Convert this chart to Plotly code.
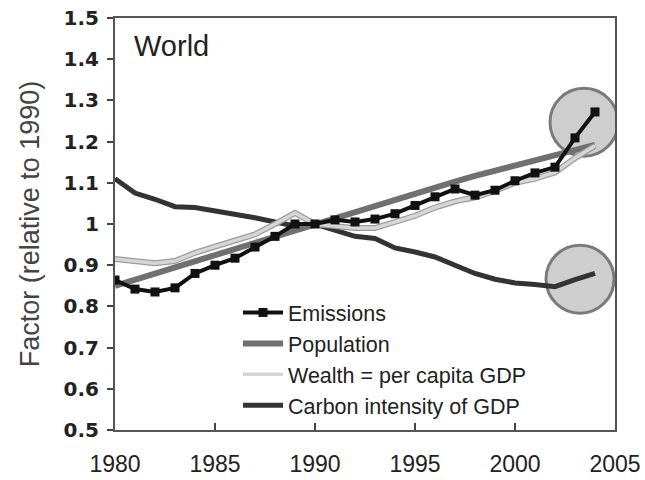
import plotly.graph_objects as go

years = list(range(1980, 2005))

emissions = [0.864, 0.842, 0.835, 0.845, 0.88, 0.90, 0.917, 0.944, 0.97, 1.0,
             1.0, 1.01, 1.005, 1.012, 1.025, 1.045, 1.066, 1.085, 1.07, 1.082,
             1.105, 1.124, 1.138, 1.209, 1.272]
population = [0.85, 0.865, 0.88, 0.895, 0.91, 0.925, 0.94, 0.955, 0.97, 0.985,
              1.0, 1.016, 1.031, 1.046, 1.061, 1.075, 1.089, 1.103, 1.117, 1.13,
              1.143, 1.156, 1.168, 1.18, 1.192]
wealth = [0.915, 0.91, 0.905, 0.91, 0.93, 0.945, 0.96, 0.975, 1.0, 1.027,
          1.0, 0.995, 0.99, 0.99, 1.005, 1.02, 1.04, 1.055, 1.065, 1.08,
          1.1, 1.11, 1.125, 1.16, 1.19]
carbon_intensity = [1.11, 1.075, 1.06, 1.042, 1.04, 1.032, 1.025, 1.015, 1.005, 0.995,
                    1.0, 0.985, 0.97, 0.965, 0.942, 0.932, 0.92, 0.90, 0.88, 0.866,
                    0.857, 0.853, 0.848, 0.865, 0.88]

y_ticks = [0.5, 0.6, 0.7, 0.8, 0.9, 1.0, 1.1, 1.2, 1.3, 1.4, 1.5]
y_tick_text = ["0.5", "0.6", "0.7", "0.8", "0.9", "1", "1.1", "1.2", "1.3", "1.4", "1.5"]
x_ticks = [1980, 1985, 1990, 1995, 2000, 2005]

# highlight circles around the latest years (centre year, centre value)
highlights = [(2003.45, 1.247), (2003.25, 0.866)]

fig = go.Figure()

fig.add_trace(go.Scatter(
    x=years, y=carbon_intensity, mode="lines", name="Carbon intensity of GDP",
    line=dict(color="#333333", width=5), legendrank=4))
fig.add_trace(go.Scatter(
    x=years, y=population, mode="lines", name="Population",
    line=dict(color="#707070", width=6), legendrank=2))
# outline under the light wealth line
fig.add_trace(go.Scatter(
    x=years, y=wealth, mode="lines", showlegend=False, hoverinfo="skip",
    line=dict(color="#9c9c9c", width=6)))
fig.add_trace(go.Scatter(
    x=years, y=wealth, mode="lines", name="Wealth = per capita GDP",
    line=dict(color="#d6d6d6", width=3.5), legendrank=3))
fig.add_trace(go.Scatter(
    x=years, y=emissions, mode="lines+markers", name="Emissions",
    line=dict(color="#111111", width=4),
    marker=dict(symbol="square", size=9, color="#111111"), legendrank=1))

for cx, cy in highlights:
    fig.add_shape(type="circle", xref="x", yref="y", layer="below",
                  xsizemode="pixel", ysizemode="pixel",
                  xanchor=cx, yanchor=cy, x0=-34, x1=34, y0=-34, y1=34,
                  fillcolor="rgba(185,185,185,0.7)",
                  line=dict(color="#7a7a7a", width=3))

fig.add_annotation(x=0.034, y=0.975, xref="paper", yref="paper",
                   text="World", showarrow=False, xanchor="left", yanchor="top",
                   font=dict(family="Liberation Sans, Arial", size=29, color="#222222"))

fig.update_layout(
    width=645, height=480,
    margin=dict(l=115, r=30, t=18, b=50),
    paper_bgcolor="white", plot_bgcolor="white",
    font=dict(family="Liberation Sans, Arial", color="#222222"),
    legend=dict(x=0.246, y=0.335, xanchor="left", yanchor="top",
                bgcolor="rgba(0,0,0,0)",
                font=dict(family="Liberation Sans, Arial", size=21.5, color="#222222"),
                tracegroupgap=0, itemwidth=40),
    showlegend=True,
)
fig.update_xaxes(range=[1980, 2005], tickvals=x_ticks, ticks="inside", ticklen=7,
                 tickcolor="#444444", tickwidth=1.5, ticklabelstandoff=12,
                 automargin=False,
                 showline=True, linecolor="#555555", linewidth=2, mirror=True,
                 showgrid=False, zeroline=False,
                 tickfont=dict(family="Liberation Sans, Arial", size=23, color="#222222"))
fig.update_yaxes(range=[0.5, 1.5], tickvals=y_ticks, ticktext=y_tick_text,
                 ticks="outside", ticklen=6, tickcolor="#444444", tickwidth=1.5,
                 ticklabelstandoff=4, automargin=False,
                 showline=True, linecolor="#555555", linewidth=2, mirror=True,
                 showgrid=False, zeroline=False,
                 tickfont=dict(family="DejaVu Sans", size=20, color="#222222", weight="bold"),
                 title=dict(text="Factor (relative to 1990)", standoff=16,
                            font=dict(family="Liberation Sans, Arial", size=27, color="#444444")))

fig.write_html("out.html")
